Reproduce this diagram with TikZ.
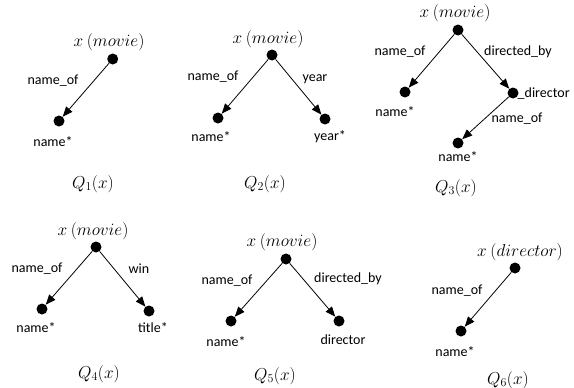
\documentclass[tikz,border=0pt]{standalone}
\usepackage{fontspec}
\setmainfont{Carlito}
\usetikzlibrary{arrows.meta}
\begin{document}
\begin{tikzpicture}[x=1pt,y=-1pt,
  dot/.style={circle,fill=black,inner sep=0pt,minimum size=11pt},
  lab/.style={inner sep=0pt,font=\fontsize{14}{16}\selectfont},
  mlab/.style={inner sep=0pt,font=\fontsize{16.5}{18}\selectfont},
  arr/.style={-{Triangle[length=10pt,width=8pt]},line width=0.8pt}]
\useasboundingbox (0,0) rectangle (574,388);
% Q1
\node[dot] (r1) at (112.7,59) {};
\node[dot] (a1) at (59,121) {};
\node[mlab] (t1) at (109,42) {$x\ (movie)$};
\node[lab] (e1) at (53,81) {name\_of};
\node[lab] (n1) at (53,142) {name*};
\node[mlab] (q1) at (93,184) {$Q_1(x)$};
\draw[arr] (r1) -- (a1);
% Q2
\node[dot] (r2) at (272,55) {};
\node[dot] (a2) at (218,118) {};
\node[dot] (b2) at (325,119) {};
\node[mlab] (t2) at (268,39) {$x\ (movie)$};
\node[lab] (e2a) at (213,77) {name\_of};
\node[lab] (e2b) at (315,79) {year};
\node[lab] (n2a) at (211,137) {name*};
\node[lab] (n2b) at (330,137) {year*};
\node[mlab] (q2) at (265,184) {$Q_2(x)$};
\draw[arr] (r2) -- (a2);
\draw[arr] (r2) -- (b2);
% Q3
\node[dot] (r3) at (458,30) {};
\node[dot] (a3) at (405,92) {};
\node[dot] (b3) at (513,93) {};
\node[dot] (c3) at (458,143) {};
\node[mlab] (t3) at (455,13) {$x\ (movie)$};
\node[lab] (e3a) at (400,52) {name\_of};
\node[lab] (e3b) at (518,52) {directed\_by};
\node[lab] (n3a) at (395,112) {name*};
\node[lab,anchor=west] (n3b) at (517.5,94) {\_director};
\node[lab] (e3c) at (517,119) {name\_of};
\node[lab] (n3c) at (458,157) {name*};
\node[mlab] (q3) at (456,188) {$Q_3(x)$};
\draw[arr] (r3) -- (a3);
\draw[arr] (r3) -- (b3);
\draw[arr] (b3) -- (c3);
% Q4
\node[dot] (r4) at (96,247) {};
\node[dot] (a4) at (42,309) {};
\node[dot] (b4) at (149,311) {};
\node[mlab] (t4) at (93,231) {$x\ (movie)$};
\node[lab] (e4a) at (37,269) {name\_of};
\node[lab] (e4b) at (139,269) {win};
\node[lab] (n4a) at (36,328) {name*};
\node[lab] (n4b) at (153,328) {title*};
\node[mlab] (q4) at (99,374) {$Q_4(x)$};
\draw[arr] (r4) -- (a4);
\draw[arr] (r4) -- (b4);
% Q5
\node[dot] (r5) at (286,259) {};
\node[dot] (a5) at (231,321) {};
\node[dot] (b5) at (339,321) {};
\node[mlab] (t5) at (282,242) {$x\ (movie)$};
\node[lab] (e5a) at (227,281) {name\_of};
\node[lab] (e5b) at (348,279) {directed\_by};
\node[lab] (n5a) at (226,342) {name*};
\node[lab] (n5b) at (343,340) {director};
\node[mlab] (q5) at (275,376) {$Q_5(x)$};
\draw[arr] (r5) -- (a5);
\draw[arr] (r5) -- (b5);
% Q6
\node[dot] (r6) at (515,268) {};
\node[dot] (a6) at (461,331) {};
\node[mlab] (t6) at (520,252) {$x\ (director)$};
\node[lab] (e6) at (457,291) {name\_of};
\node[lab] (n6) at (455,352) {name*};
\node[mlab] (q6) at (508,380) {$Q_6(x)$};
\draw[arr] (r6) -- (a6);
\end{tikzpicture}
\end{document}
